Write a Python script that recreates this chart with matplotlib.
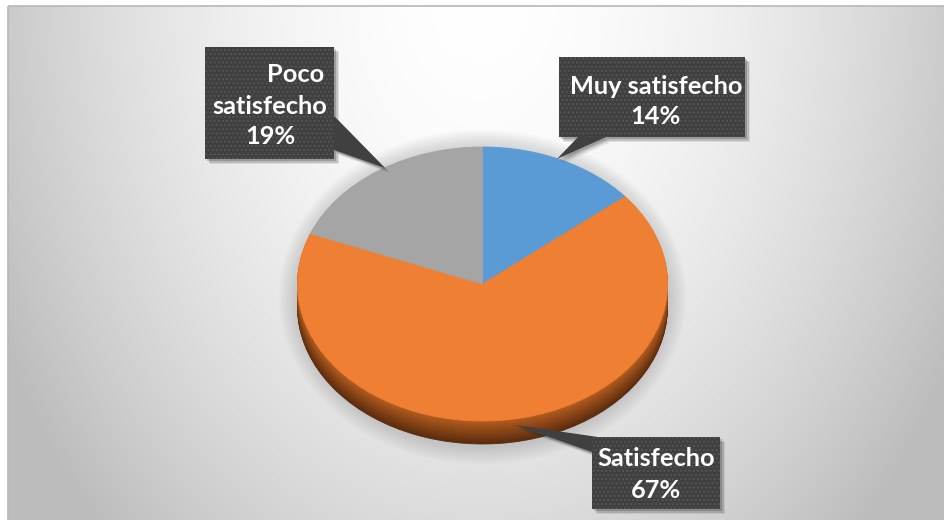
import numpy as np
import matplotlib
matplotlib.use("Agg")
import matplotlib.pyplot as plt
from matplotlib.patches import Rectangle, Polygon, Ellipse

# ---------------- data ----------------
categories = ["Muy satisfecho", "Satisfecho", "Poco satisfecho"]
values = [14, 67, 19]
pct_labels = ["14%", "67%", "19%"]
colors = ["#5b9bd5", "#ef7f33", "#a5a5a5"]
side_colors = ["#3e6e9a", "#9a4d18", "#707070"]

W, H = 945, 520
fig = plt.figure(figsize=(W / 100, H / 100), dpi=100)

# ---------------- background (pixel coordinates, y down) ----------------
bg = fig.add_axes([0, 0, 1, 1])
bg.set_xlim(0, W)
bg.set_ylim(H, 0)
bg.axis("off")
yy, xx = np.mgrid[6:H:1.0, 8:W:1.0]
r = np.sqrt(((xx - 480) / 500.0) ** 2 + ((yy + 10) / 700.0) ** 2)
v = 255 - 58 * np.clip(r, 0, 1.08) ** 1.8
v = np.clip(v, 0, 255) / 255.0
bg.imshow(np.dstack([v, v, v]), extent=(8, W, H, 6), aspect="auto",
          interpolation="bilinear", zorder=0)
bg.add_patch(Rectangle((8, 6), W - 8 + 5, H - 6 + 5, fill=False,
                       edgecolor="#b8b8b8", lw=1.2, zorder=1))

# ---------------- pie (ellipse via axis scaling) ----------------
cx, cy = 482.5, 284.0       # image px centre of top face
rx, ry = 185.0, 137.0       # px radii
depth_px = 23.0
pax = fig.add_axes([0, 0, 1, 1])
pax.patch.set_alpha(0)

depth = depth_px / ry
# soft shadow / glow around the pie
for k in range(8):
    pax.add_patch(Ellipse((0, -depth / 2 - 0.01), 2 * (1 + (3 + 2.2 * k) / rx),
                          2 * (1 + depth / 2 + (3 + 2.2 * k) / ry),
                          facecolor="#707070", edgecolor="none", alpha=0.035, zorder=1))

n_layers = 24
dark = np.array(matplotlib.colors.to_rgb("#5a2c0e"))
light = np.array(matplotlib.colors.to_rgb("#b35c1f"))
for i in range(n_layers, 0, -1):
    d = depth * i / n_layers
    t = i / n_layers
    base_orange = light * (1 - t) + dark * t
    scols = list(side_colors)
    scols[1] = tuple(base_orange)
    wedges, _ = pax.pie(values, colors=scols, startangle=90, counterclock=False,
                        center=(0, -d), radius=1.0,
                        wedgeprops=dict(linewidth=0))
    for w in wedges:
        w.set_zorder(2)
        w.set_edgecolor(w.get_facecolor())
        w.set_linewidth(0.6)

wedges, _ = pax.pie(values, colors=colors, startangle=90, counterclock=False,
                    center=(0, 0), radius=1.0, wedgeprops=dict(linewidth=0))
for w in wedges:
    w.set_zorder(3)
    w.set_edgecolor(w.get_facecolor())
    w.set_linewidth(0.6)

pax.set_aspect("auto")
pax.set_xlim(-cx / rx, (W - cx) / rx)
pax.set_ylim((cy - H) / ry, cy / ry)
pax.axis("off")

# ---------------- labels (pixel coordinates, y down) ----------------
lax = fig.add_axes([0, 0, 1, 1])
lax.set_xlim(0, W)
lax.set_ylim(H, 0)
lax.axis("off")
lax.patch.set_alpha(0)

box_fc = "#404040"
font = dict(family=["Lato", "DejaVu Sans"], fontweight="bold", color="white",
            fontsize=18.3)

boxes = {
    "Muy satisfecho": dict(box=(559, 57, 186, 80),
                           pointer=[(557, 159), (578, 137), (606, 137)],
                           lines=[("Muy satisfecho", 656, 86, "center"),
                                  ("14%", 656, 117, "center")]),
    "Satisfecho": dict(box=(592, 437, 128, 72),
                       pointer=[(515, 425), (598, 437), (592, 452)],
                       lines=[("Satisfecho", 656, 458, "center"),
                              ("67%", 656, 490, "center")]),
    "Poco satisfecho": dict(box=(205, 47, 129, 112),
                            pointer=[(385, 168), (334, 116), (334, 150)],
                            lines=[("Poco", 324, 74, "right"),
                                   ("satisfecho", 270, 106, "center"),
                                   ("19%", 270, 137, "center")]),
}

matplotlib.rcParams["hatch.linewidth"] = 1.0
for name, spec in boxes.items():
    x, y, w, h = spec["box"]
    # shadow
    for off, a in [(5, 0.10), (3.5, 0.18), (2, 0.25)]:
        lax.add_patch(Rectangle((x + off, y + off), w, h, facecolor="#303030",
                                edgecolor="none", alpha=a, zorder=4))
        lax.add_patch(Polygon([(px + off, py + off) for px, py in spec["pointer"]],
                              closed=True, facecolor="#303030", edgecolor="none",
                              alpha=a, zorder=4))
    lax.add_patch(Polygon(spec["pointer"], closed=True, facecolor=box_fc,
                          edgecolor="none", zorder=5))
    lax.add_patch(Rectangle((x, y), w, h, facecolor=box_fc, edgecolor="none", zorder=5))
    lax.add_patch(Rectangle((x, y), w, h, facecolor="none", edgecolor="#555555",
                            hatch="....", lw=0, zorder=6))
    for txt, tx, ty, ha in spec["lines"]:
        lax.text(tx, ty, txt, ha=ha, va="center", zorder=7, **font)

fig.savefig("out.png", dpi=100)
